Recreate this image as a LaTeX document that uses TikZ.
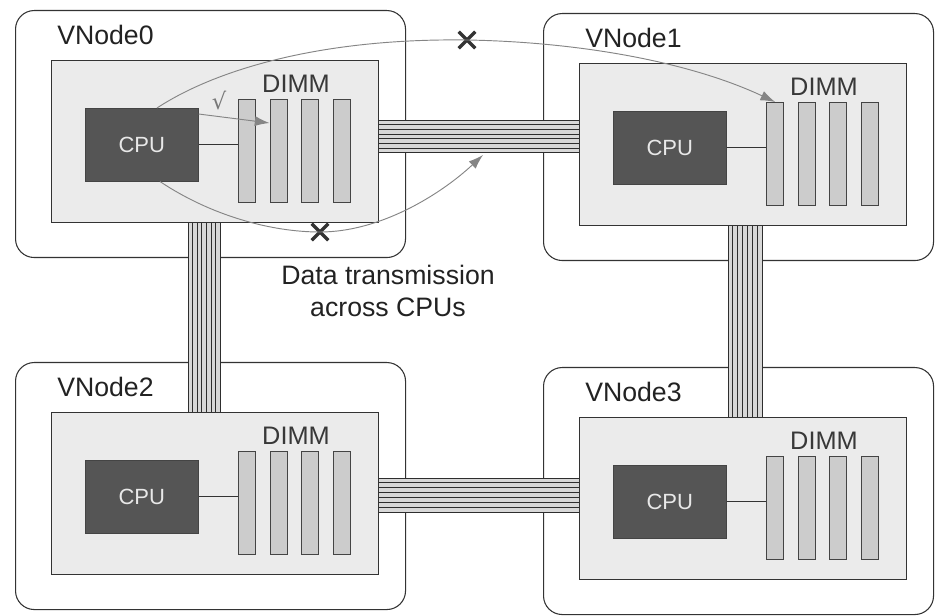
\documentclass[tikz,border=0pt]{standalone}
\usepackage{fontspec}
\setmainfont{Liberation Sans}
\newfontfamily\marksfont{DejaVu Sans}
\usepackage{tikz}
\usetikzlibrary{calc,arrows.meta,shapes.misc}

\definecolor{boxline}{HTML}{333333}
\definecolor{innerfill}{HTML}{EBEBEB}
\definecolor{cpufill}{HTML}{555555}
\definecolor{cputext}{HTML}{E8E8E8}
\definecolor{barfill}{HTML}{CCCCCC}
\definecolor{barline}{HTML}{444444}
\definecolor{busline}{HTML}{2E2E2E}
\definecolor{busfill}{HTML}{D8D8D8}
\definecolor{flowgray}{HTML}{858585}
\definecolor{textgray}{HTML}{222222}

\tikzset{
  vnode outer/.style={draw=boxline, fill=white, line width=0.8pt, rounded corners=14pt,
    minimum width=292.5pt, minimum height=185.25pt, anchor=north west, inner sep=0pt},
  vnode inner/.style={draw=boxline, fill=innerfill, line width=1pt,
    minimum width=245.25pt, minimum height=121.5pt, anchor=north west, inner sep=0pt},
  vnode label/.style={anchor=west, inner sep=0pt, text=textgray, font=\fontsize{20}{24}\selectfont},
  cpu box/.style={fill=cpufill, draw=cpufill!80!black, minimum width=84.75pt, minimum height=54.75pt,
    anchor=north west, inner sep=0pt, text=cputext, font=\fontsize{16.5}{19}\selectfont},
  dimm label/.style={inner sep=0pt, text=textgray!90, font=\fontsize{19}{23}\selectfont},
  dimm bar/.style={draw=barline, fill=barfill, line width=1pt,
    minimum width=12.75pt, minimum height=77.25pt, anchor=north west, inner sep=0pt},
  wire/.style={draw=boxline, line width=0.8pt},
  bus line/.style={draw=busline, line width=0.65pt},
  flow/.style={draw=flowgray, line width=0.7pt},
  flow arrow/.style={flow, -{Latex[length=11pt,width=7.5pt]}, flowgray},
  xmark/.style={cross out, draw=boxline, line width=2.4pt, minimum size=10pt, inner sep=0pt},
  tick mark/.style={inner sep=0pt, text=flowgray!90!black, font=\marksfont\fontsize{17}{19}\selectfont},
  note/.style={align=center, text=textgray, font=\fontsize{20}{24}\selectfont},
  vnode/.pic={
    \node[vnode outer] (-outer) at (0,0) {};
    \node[vnode label] (-label) at (42,25) {VNode#1};
    \node[vnode inner] (-inner) at (36,50) {};
    \node[cpu box] (-cpu) at (70,98) {CPU};
    \node[dimm label] (-dimm) at (281,74) {DIMM};
    \foreach \i in {1,...,4}
      \node[dimm bar] (-bar\i) at ({223+(\i-1)*31.5},89) {};
    \draw[wire] (-cpu.east) -- (-cpu.east -| -bar1.west);
  }
}

\begin{document}
\begin{tikzpicture}[x=0.75pt,y=-0.75pt]
\useasboundingbox (0,0) rectangle (935,616);
\pic[
  name=v0
] at (15,10) {vnode=0};
\pic[
  name=v1
] at (543,13) {vnode=1};
\pic[
  name=v2
] at (15,362) {vnode=2};
\pic[
  name=v3
] at (543,367) {vnode=3};

\fill[busfill] ($(v0-inner.north east)+(0,60)$) rectangle ($(v1-inner.north west)+(0,{57+7*4.7})$);
\fill[busfill] ($(v2-inner.north east)+(0,66)$) rectangle ($(v3-inner.north west)+(0,{61+7*4.86})$);
\fill[busfill] ($(v0-inner.south west)+(137,0)$) rectangle ($(v2-inner.north west)+({137+7*4.6},0)$);
\fill[busfill] ($(v1-inner.south west)+(149,0)$) rectangle ($(v3-inner.north west)+({149+7*4.86},0)$);
\foreach \k in {0,...,7}{
  \draw[bus line] ($(v0-inner.north east)+(0,{60+\k*4.7})$) -- ($(v1-inner.north west)+(0,{57+\k*4.7})$);
  \draw[bus line] ($(v2-inner.north east)+(0,{66+\k*4.86})$) -- ($(v3-inner.north west)+(0,{61+\k*4.86})$);
  \draw[bus line] ($(v0-inner.south west)+({137+\k*4.6},0)$) -- ($(v2-inner.north west)+({137+\k*4.6},0)$);
  \draw[bus line] ($(v1-inner.south west)+({149+\k*4.86},0)$) -- ($(v3-inner.north west)+({149+\k*4.86},0)$);
}

\node[xmark] (cross1) at (467,40) {};
\node[xmark] (cross2) at (320,232) {};
\coordinate (busend) at (483,155);
\draw[flow] ($(v0-cpu.north west)+(72,0)$) .. controls (215,70) and (320,38) .. (cross1.center);
\draw[flow arrow] (cross1.center) .. controls (580,42) and (690,62) .. (v1-bar1.north);
\draw[flow] ($(v0-cpu.south west)+(75,0)$) .. controls (210,215) and (270,232) .. (cross2.center);
\draw[flow arrow] (cross2.center) .. controls (380,232) and (440,195) .. (busend);
\draw[flow arrow] ($(v0-cpu.north east)+(0,6)$) -- ($(v0-bar2.north west)+(0,24)$);
\node[tick mark] (okmark) at (219,101) {√};

\node[note] (acrosscpus) at (388,291) {Data transmission\\across CPUs};
\end{tikzpicture}
\end{document}
